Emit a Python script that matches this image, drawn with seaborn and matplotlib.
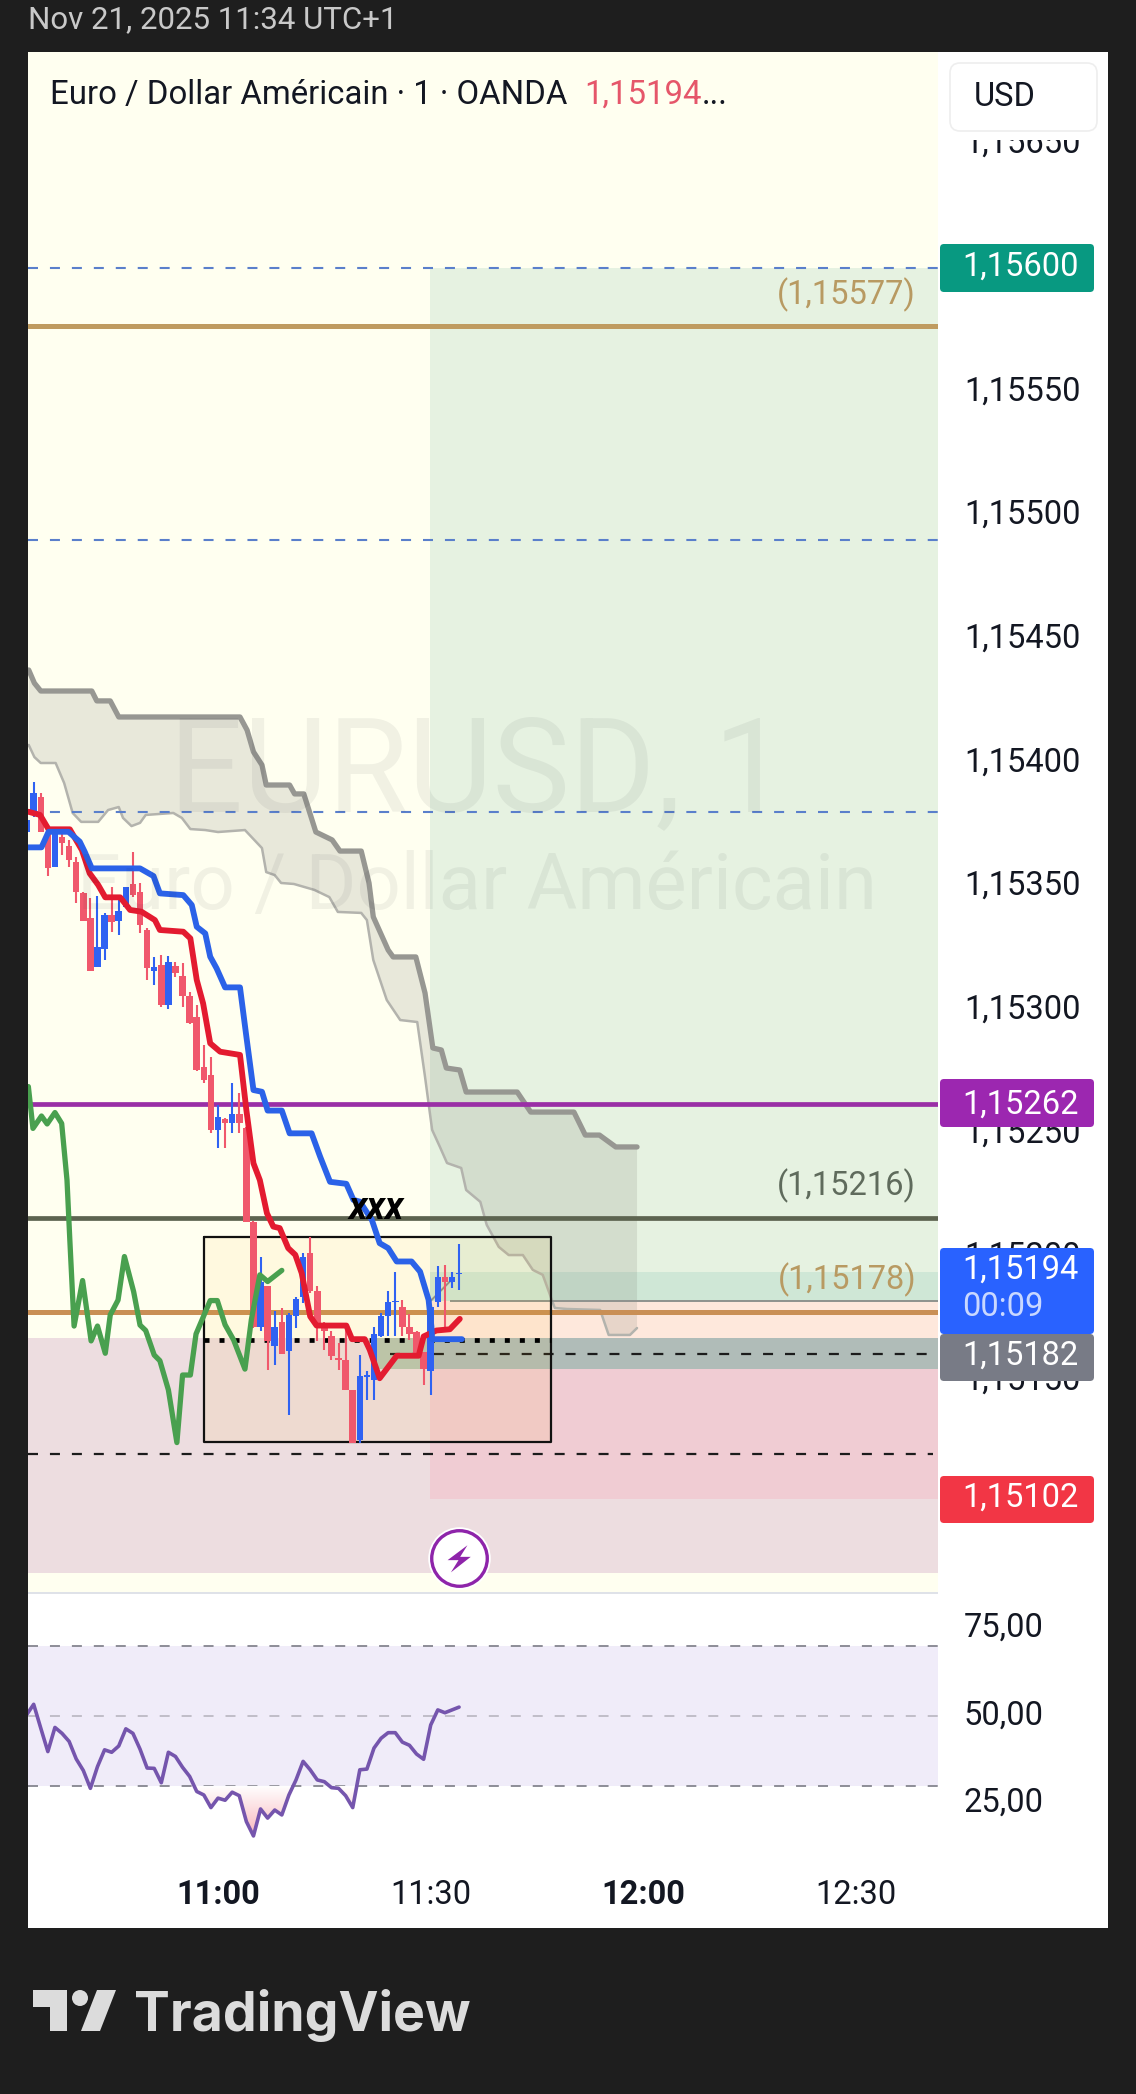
import numpy as np
import matplotlib
matplotlib.use('Agg')
import matplotlib.pyplot as plt
import matplotlib.transforms as mtransforms
import seaborn as sns
from matplotlib.colors import LinearSegmentedColormap
from matplotlib.patches import FancyBboxPatch, Polygon, Circle, Rectangle
from matplotlib.path import Path

# candles, minutes relative to 11:00
candle_t = list(range(-27, 35))
opens = [1.153705, 1.153779, 1.153844, 1.153696, 1.153564, 1.153685, 1.153647, 1.153584, 1.153456, 1.153355,
         1.153160, 1.153231, 1.153369, 1.153344, 1.153402, 1.153494, 1.153463, 1.153308, 1.153141, 1.153166,
         1.153005, 1.153162, 1.153122, 1.153041, 1.152955, 1.152753, 1.152722, 1.152500, 1.152543, 1.152526,
         1.152564, 1.152506, 1.152126, 1.151705, 1.151867, 1.151628, 1.151725, 1.151607, 1.151746, 1.151826,
         1.152004, 1.151847, 1.151712, 1.151667, 1.151577, 1.151568, 1.151447, 1.151247, 1.151503, 1.151487,
         1.151665, 1.151746, 1.151805, 1.151786, 1.151705, 1.151682, 1.151604, 1.151527, 1.151806, 1.151905,
         1.151887, 1.151918]
highs = [1.153752, 1.153907, 1.153863, 1.153719, 1.153719, 1.153719, 1.153672, 1.153604, 1.153463, 1.153436,
         1.153445, 1.153375, 1.153483, 1.153429, 1.153483, 1.153624, 1.153497, 1.153315, 1.153197, 1.153207,
         1.153203, 1.153180, 1.153173, 1.153059, 1.153005, 1.152843, 1.152796, 1.152601, 1.152547, 1.152688,
         1.152648, 1.152513, 1.152130, 1.151988, 1.151867, 1.151766, 1.151779, 1.151759, 1.151826, 1.152004,
         1.152069, 1.151867, 1.151725, 1.151685, 1.151638, 1.151705, 1.151447, 1.151588, 1.151527, 1.151705,
         1.151759, 1.151847, 1.151927, 1.151813, 1.151756, 1.151685, 1.151604, 1.151786, 1.151948, 1.151954,
         1.151927, 1.152038]
lows = [1.153705, 1.153766, 1.153705, 1.153526, 1.153561, 1.153611, 1.153564, 1.153416, 1.153344, 1.153144,
        1.153157, 1.153187, 1.153301, 1.153288, 1.153395, 1.153443, 1.153294, 1.153106, 1.153086, 1.152995,
        1.152987, 1.153119, 1.152995, 1.152928, 1.152739, 1.152688, 1.152486, 1.152425, 1.152425, 1.152486,
        1.152486, 1.152126, 1.151698, 1.151689, 1.151530, 1.151550, 1.151595, 1.151348, 1.151698, 1.151802,
        1.151840, 1.151645, 1.151611, 1.151568, 1.151530, 1.151447, 1.151234, 1.151236, 1.151409, 1.151409,
        1.151662, 1.151665, 1.151665, 1.151665, 1.151649, 1.151577, 1.151469, 1.151429, 1.151783, 1.151705,
        1.151860, 1.151851]
closes = [1.153752, 1.153863, 1.153705, 1.153557, 1.153709, 1.153661, 1.153591, 1.153460, 1.153344, 1.153144,
          1.153241, 1.153369, 1.153342, 1.153386, 1.153480, 1.153449, 1.153328, 1.153153, 1.153157, 1.153005,
          1.153177, 1.153133, 1.153041, 1.152931, 1.152742, 1.152702, 1.152500, 1.152551, 1.152526, 1.152564,
          1.152526, 1.152126, 1.151705, 1.151887, 1.151645, 1.151705, 1.151595, 1.151750, 1.151816, 1.151988,
          1.151847, 1.151705, 1.151685, 1.151587, 1.151568, 1.151447, 1.151234, 1.151507, 1.151510, 1.151676,
          1.151748, 1.151806, 1.151810, 1.151705, 1.151676, 1.151584, 1.151533, 1.151783, 1.151905, 1.151887,
          1.151907, 1.151923]

# moving averages
red_t = [-26.75, -25.1, -23.9, -20.9, -19.2, -18.1, -16.9, -15.9, -13.8, -12.4, -10.8, -8.9, -8.2, -4.9, -3.9, -3.0,
         -2.1, -1.1, 0.3, 3.1, 4.0, 5.0, 5.9, 6.9, 7.8, 8.7, 9.9, 10.9, 11.8, 13.0, 13.9, 18.1, 18.9, 20.7, 21.4,
         22.8, 25.2, 28.3, 29.0, 30.8, 32.7, 34.1]
red_v = [1.153786, 1.153773, 1.153715, 1.153715, 1.153631, 1.153537, 1.153490, 1.153440, 1.153440, 1.153389,
         1.153382, 1.153348, 1.153308, 1.153301, 1.153274, 1.153106, 1.153011, 1.152850, 1.152816, 1.152803,
         1.152580, 1.152365, 1.152297, 1.152163, 1.152109, 1.152103, 1.152022, 1.151995, 1.151921, 1.151746,
         1.151709, 1.151709, 1.151654, 1.151654, 1.151611, 1.151496, 1.151587, 1.151587, 1.151665, 1.151689,
         1.151694, 1.151736]
blue_t = [-26.75, -24.9, -23.9, -21.1, -19.5, -18.8, -17.8, -11.0, -9.1, -8.2, -4.9, -3.7, -3.0, -1.8, -1.1, -0.2, 1.0,
          3.1, 4.0, 5.0, 6.2, 7.0, 9.0, 10.1, 13.2, 14.4, 15.8, 18.1, 19.1, 20.0, 21.7, 22.8, 24.0, 25.2, 27.3, 28.5,
          29.7, 30.1, 30.2, 34.4]
blue_v = [1.153642, 1.153642, 1.153705, 1.153705, 1.153665, 1.153624, 1.153557, 1.153557, 1.153526, 1.153456,
          1.153449, 1.153409, 1.153321, 1.153294, 1.153200, 1.153153, 1.153076, 1.153076, 1.152877, 1.152661,
          1.152654, 1.152578, 1.152578, 1.152486, 1.152486, 1.152392, 1.152290, 1.152282, 1.152217, 1.152210,
          1.152136, 1.152042, 1.152022, 1.151968, 1.151968, 1.151927, 1.151813, 1.151705, 1.151654, 1.151654]
green_t = [-26.75, -26.1, -24.9, -24.1, -23.0, -22.05, -21.3, -20.9, -20.3, -19.1, -17.9, -17.0, -15.9, -15.2, -14.1,
           -13.2, -11.9, -11.0, -10.2, -9.0, -8.2, -7.0, -5.8, -5.0, -3.9, -3.1, -1.1, -0.1, 1.0, 2.2, 3.8, 4.7, 5.9,
           7.0, 9.0]
green_v = [1.152675, 1.152506, 1.152556, 1.152524, 1.152570, 1.152526, 1.152297, 1.152055, 1.151707, 1.151891,
           1.151647, 1.151707, 1.151597, 1.151752, 1.151812, 1.151988, 1.151846, 1.151711, 1.151689, 1.151590,
           1.151567, 1.151449, 1.151236, 1.151509, 1.151509, 1.151675, 1.151810, 1.151810, 1.151712, 1.151651,
           1.151533, 1.151732, 1.151914, 1.151887, 1.151932]

# cloud edges
span_a_t = [-26.7, -25.9, -25.0, -17.8, -17.1, -15.2, -14.0, 3.1, 4.1, 5.0, 6.2, 6.8, 10.1, 10.8, 12.1, 13.8, 16.1,
            17.2, 20.2, 21.3, 21.9, 24.0, 24.7, 27.9, 29.2, 30.3, 31.5, 32.2, 34.1, 35.0, 42.2, 44.1, 50.2, 51.8,
            53.8, 56.1, 59.1]
span_a_v = [1.154359, 1.154306, 1.154274, 1.154274, 1.154234, 1.154234, 1.154169, 1.154169, 1.154116, 1.154028,
            1.153975, 1.153894, 1.153894, 1.153858, 1.153858, 1.153704, 1.153672, 1.153627, 1.153627, 1.153498,
            1.153361, 1.153227, 1.153199, 1.153199, 1.153053, 1.152831, 1.152823, 1.152750, 1.152742, 1.152653,
            1.152653, 1.152572, 1.152572, 1.152479, 1.152479, 1.152431, 1.152431]
span_b_t = [-26.7, -25.9, -25.0, -22.9, -21.7, -20.5, -19.3, -16.9, -15.5, -14.0, -13.4, -12.2, -11.0, -10.2, -6.3,
            -5.1, -3.9, -1.8, 0.0, 3.8, 6.2, 6.8, 8.0, 8.9, 10.7, 13.6, 15.7, 16.9, 20.2, 21.0, 21.9, 23.8, 25.7, 28.1,
            29.2, 30.2, 31.3, 32.3, 34.3, 35.0, 37.0, 37.9, 39.6, 41.0, 43.0, 44.4, 45.8, 47.5, 49.2, 53.9, 55.1, 58.1,
            59.1]
span_b_v = [1.154056, 1.154007, 1.153983, 1.153983, 1.153902, 1.153781, 1.153745, 1.153745, 1.153793, 1.153805,
            1.153761, 1.153728, 1.153741, 1.153773, 1.153781, 1.153761, 1.153716, 1.153712, 1.153704, 1.153712,
            1.153639, 1.153542, 1.153530, 1.153498, 1.153494, 1.153470, 1.153441, 1.153381, 1.153377, 1.153348,
            1.153187, 1.153025, 1.152944, 1.152936, 1.152714, 1.152500, 1.152431, 1.152366, 1.152346, 1.152257,
            1.152209, 1.152116, 1.152027, 1.151994, 1.151994, 1.151934, 1.151914, 1.151780, 1.151776, 1.151772,
            1.151671, 1.151671, 1.151699]

# rsi, one value per candle
rsi_values = [50.3, 53.3, 46.5, 39.8, 46.7, 45.0, 42.7, 37.7, 34.4, 29.3, 35.5, 40.3, 39.6, 41.4, 46.3, 45.0, 40.5,
              35.1, 35.0, 30.9, 39.6, 38.4, 35.3, 32.7, 28.4, 27.4, 23.8, 26.5, 25.9, 28.2, 27.2, 19.8, 15.7, 23.4,
              20.8, 23.1, 21.7, 27.4, 31.7, 37.0, 34.6, 31.7, 31.2, 29.5, 29.3, 27.2, 23.8, 34.6, 34.8, 40.8, 43.6,
              45.2, 45.2, 42.5, 41.6, 39.1, 37.6, 47.4, 51.7, 50.9, 51.7, 52.5]

# levels
blue_levels = [1.155984, 1.154884, 1.153785]
tan_level = 1.155749
orange_level = 1.151765
dark_level = 1.152144
purple_level = 1.152605
grey_level = 1.151808
dash_level_a = 1.151593
dash_level_b = 1.151189
dotted_level = 1.151651
box_top, box_bottom = 1.152067, 1.151239
xxx_t, xxx_v = 22.3, 1.152184
bolt_t, bolt_v = 34.0, 1.150770

# zones: (label, low, high, start, colour)
zones = [('target', 1.151926, 1.155984, 29.9, '#e6f2e1'),
         ('target2', 1.151808, 1.151926, 29.9, '#cfe7d6'),
         ('peach', 1.151659, 1.151808, 29.9, '#fee8dc'),
         ('grey', 1.151534, 1.151659, 29.9, '#b0bcb8'),
         ('stop', 1.151008, 1.151534, 29.9, '#f0ccd3')]

price_ticks = [1.1510 + 0.0005 * i for i in range(12)]
price_labels = ['1,15100', '1,15150', '1,15200', '1,15250', '1,15300', '1,15350', '1,15400', '1,15450', '1,15500',
                '1,15550', '1,15600', '1,15650']
time_ticks = [0, 30, 60, 90]
time_labels = ['11:00', '11:30', '12:00', '12:30']
rsi_ticks = [75, 50, 25]
rsi_labels = ['75,00', '50,00', '25,00']

W, H = 1136, 2094
DARK = '#1e1e1e'
UP = '#2f62f2'
DOWN = '#f0586c'
XMIN, XMAX = -26.8, 101.55
TEXT = '#131722'
SIZE = 23.5

sns.set_theme(style='white')
plt.rcParams['font.family'] = ['Roboto', 'DejaVu Sans']

fig = plt.figure(figsize=(W / 100, H / 100), dpi=100, facecolor=DARK)


def pane(top, bottom, left=28, right=938, z=1):
    return fig.add_axes([left / W, 1 - bottom / H, (right - left) / W, (bottom - top) / H], zorder=z)


def dash(lw):
    # 10 px on, 12 px off whatever the line width
    return (0, (7.2 / lw, 8.6 / lw))


under = pane(0, H, 0, W, z=0)
under.set_xlim(0, W)
under.set_ylim(H, 0)
under.axis('off')
under.add_patch(Rectangle((28, 52), 1080, 1876, color='white', lw=0))

ax = pane(52, 1592, z=2)
ax.set_facecolor('#fffff0')
ax.set_xlim(XMIN, XMAX)
ax.set_ylim(1.150632, 1.156857)

# zones under everything
ax.fill_between([XMIN, XMAX], 1.150709, 1.151659, color='#eddde0', lw=0, zorder=0.5)
for name, low, high, start, colour in zones:
    ax.fill_between([start, XMAX], low, high, color=colour, lw=0, zorder=0.6)
ax.fill_between([22, 29.9], 1.151534, 1.151659, color='#b7c6b4', lw=0, zorder=0.7)

# watermark
fig.text(478 / W, 1 - 775 / H, 'EURUSD, 1', fontsize=94, color='#131722', alpha=0.06, ha='center', va='center', zorder=3)
fig.text(877 / W, 1 - 888 / H, 'Euro / Dollar Américain', fontsize=56, color='#131722', alpha=0.06, ha='right',
         va='center', zorder=3)

# cloud
cloud_x = span_a_t + span_b_t[::-1]
cloud_y = span_a_v + span_b_v[::-1]
ax.fill(cloud_x, cloud_y, color='#787b70', alpha=0.17, lw=0, zorder=1)
sns.lineplot(x=span_a_t, y=span_a_v, ax=ax, color='#979792', linewidth=3.8, estimator=None, sort=False, zorder=1.5)
sns.lineplot(x=span_b_t, y=span_b_v, ax=ax, color='#b3b3ad', linewidth=1.8, estimator=None, sort=False, zorder=1.5)

# levels
for level in blue_levels:
    ax.axhline(level, color='#5a7fcb', lw=1.5, ls=dash(1.5), zorder=2)
ax.axhline(tan_level, color='#bf9b60', lw=3.6, zorder=2)
ax.axhline(orange_level, color='#c98f55', lw=3.6, zorder=2)
ax.axhline(dark_level, color='#5d6450', lw=3.4, zorder=2)
ax.axhline(purple_level, color='#9a2fa6', lw=3.4, zorder=2)
ax.hlines(grey_level, 32.7, XMAX, color='#8e928e', lw=1.4, zorder=2)
ax.plot([29.9, 32.7], [1.151806, 1.151887], color='#8e928e', lw=1.4, zorder=2)
ax.hlines(dash_level_a, 24.3, 100.1, color='#1c1c1c', lw=1.6, ls=dash(1.6), zorder=2)
ax.hlines(dash_level_b, XMIN, 100.8, color='#1c1c1c', lw=1.6, ls=dash(1.6), zorder=2)

# box
ax.fill_between([-2, 47], box_bottom, box_top, color='#ffb300', alpha=0.07, lw=0, zorder=2.1)
ax.plot([-2, 47, 47, -2, -2], [box_top, box_top, box_bottom, box_bottom, box_top], color='#111111', lw=1.6, zorder=2.2)
ax.hlines(dotted_level, -2, 47, color='black', lw=3.4, ls=(0, (1.06, 2.12)), zorder=2.3)

# candles
colours = [UP if c >= o else DOWN for o, c in zip(opens, closes)]
ax.vlines(candle_t, lows, highs, colors=colours, lw=1.5, zorder=3.5)
ax.bar(candle_t, np.abs(np.array(closes) - np.array(opens)), bottom=np.minimum(opens, closes), width=0.92,
       color=colours, lw=0, zorder=3.6)

# moving averages
sns.lineplot(x=green_t, y=green_v, ax=ax, color='#49a04f', linewidth=3.8, estimator=None, sort=False, zorder=4)
sns.lineplot(x=red_t, y=red_v, ax=ax, color='#e31b30', linewidth=4.2, estimator=None, sort=False, zorder=4.1)
sns.lineplot(x=blue_t, y=blue_v, ax=ax, color='#2b62e8', linewidth=4.2, estimator=None, sort=False, zorder=4.2)

ax.text(xxx_t, xxx_v, 'xxx', fontsize=27, fontweight='bold', fontstyle='italic', color='black', ha='center',
        va='center', zorder=5)

# alert marker
bolt = [(24, 40), (-36, -5), (-3, -5), (-26, -42), (34, 5), (2, 5)]
ax.plot([bolt_t], [bolt_v], marker='o', ms=45, mfc='white', mec='none', zorder=5, clip_on=False)
ax.plot([bolt_t], [bolt_v], marker='o', ms=40, mfc='white', mec='#8e24aa', mew=2.4, zorder=5.1)
ax.plot([bolt_t], [bolt_v], marker=bolt, ms=20, mfc='#8e24aa', mec='none', zorder=5.2)

ax.set_yticks(price_ticks)
ax.set_yticklabels(price_labels)
ax.set_xticks([])
ax.yaxis.tick_right()
ax.tick_params(axis='y', length=0, pad=18.7, labelsize=SIZE, labelcolor=TEXT)
sns.despine(ax=ax, left=True, right=True, top=True, bottom=True)

# rsi pane
rsi_ax = pane(1593, 1865, z=2)
rsi_ax.set_facecolor('white')
rsi_ax.set_xlim(XMIN, XMAX)
rsi_ax.set_ylim(7.4, 85.1)
rsi_ax.axhspan(30, 70, color='#f0ecf9', lw=0, zorder=0.5)
rsi_ax.axhline(70, color='#85858f', lw=1.3, ls=dash(1.3), zorder=1)
rsi_ax.axhline(50, color='#bdbac4', lw=1.3, ls=dash(1.3), zorder=1)
rsi_ax.axhline(30, color='#85858f', lw=1.3, ls=dash(1.3), zorder=1)

rsi_arr = np.array(rsi_values)
under_band = rsi_ax.fill_between(candle_t, rsi_arr, 30, where=rsi_arr < 30, interpolate=True, color='none', lw=0)
pink = LinearSegmentedColormap.from_list('pink_fade', ['#ffffff', '#f8b4ba'])
grad = rsi_ax.imshow(np.linspace(0, 1, 64).reshape(-1, 1), extent=[XMIN, XMAX, 15, 30], origin='upper', cmap=pink,
                     aspect='auto', zorder=1.5)
grad.set_clip_path(Path.make_compound_path(*under_band.get_paths()), transform=rsi_ax.transData)
rsi_ax.set_xlim(XMIN, XMAX)
rsi_ax.set_ylim(7.4, 85.1)

sns.lineplot(x=candle_t, y=rsi_values, ax=rsi_ax, color='#7555ad', linewidth=2.6, estimator=None, sort=False, zorder=2)

rsi_ax.set_yticks(rsi_ticks)
rsi_ax.set_yticklabels(rsi_labels)
rsi_ax.yaxis.tick_right()
rsi_ax.tick_params(axis='y', length=0, pad=18.7, labelsize=SIZE, labelcolor=TEXT)
# the scale text sits a little above its value in the original
lift = mtransforms.ScaledTranslation(0, 4 / 100, fig.dpi_scale_trans)
for label in rsi_ax.get_yticklabels():
    label.set_transform(label.get_transform() + lift)
rsi_ax.set_xticks(time_ticks)
rsi_ax.set_xticklabels(time_labels)
rsi_ax.tick_params(axis='x', length=0, pad=10, labelsize=SIZE, labelcolor=TEXT)
for label, weight in zip(rsi_ax.get_xticklabels(), ['bold', 'normal', 'bold', 'normal']):
    label.set_fontweight(weight)
sns.despine(ax=rsi_ax, left=True, right=True, top=True, bottom=True)

# overlay in pixels: header, badges, logo
over = pane(0, H, 0, W, z=10)
over.set_xlim(0, W)
over.set_ylim(H, 0)
over.axis('off')
over.patch.set_alpha(0)

over.add_patch(Rectangle((28, 1592), 910, 1.5, color='#dfe2e8', lw=0))
over.text(28, 20, 'Nov 21, 2025 11:34 UTC+1', fontsize=22.5, color='#c9c9c9', va='center')
over.text(50, 95, 'Euro / Dollar Américain · 1 · OANDA', fontsize=23.7, color=TEXT, va='center')
over.text(584, 95, '1,15194', fontsize=23.7, color='#e5566a', va='center')
over.text(702, 95, '...', fontsize=23.7, color=TEXT, va='center')

# the scale label behind the currency button is cut off at its top
over.add_patch(Rectangle((939, 52), 169, 88, color='white', lw=0))
over.add_patch(FancyBboxPatch((950, 63), 147, 68, boxstyle='round,pad=0,rounding_size=10', fc='white', ec='#eeeeee',
                              lw=1.2))
over.text(974, 97, 'USD', fontsize=23.5, color=TEXT, va='center')

over.text(916, 295, '(1,15577)', fontsize=SIZE, color='#b89a62', ha='right', va='center')
over.text(916, 1186, '(1,15216)', fontsize=SIZE, color='#5f6b5c', ha='right', va='center')
over.text(916, 1280, '(1,15178)', fontsize=SIZE, color='#b89a62', ha='right', va='center')

badges = [(244, 292, '#089981', '1,15600', 267),
          (1079, 1127, '#9c27b0', '1,15262', 1105),
          (1248, 1334, '#2962ff', '1,15194', 1270),
          (1334, 1381, '#787b86', '1,15182', 1356),
          (1476, 1523, '#f23645', '1,15102', 1498)]
for top, bottom, colour, text, centre in badges:
    over.add_patch(FancyBboxPatch((940, top), 154, bottom - top, boxstyle='round,pad=0,rounding_size=4', fc=colour,
                                  ec='none'))
    over.text(962, centre, text, fontsize=SIZE, color='white', va='center')
over.text(962, 1307, '00:09', fontsize=SIZE, color='#c9d8ff', va='center')

# logo
logo_colour = '#dcdcdc'
over.add_patch(Polygon([(33, 1990), (67, 1990), (67, 2031), (50, 2031), (50, 2007), (33, 2007)], fc=logo_colour, ec='none'))
over.add_patch(Circle((80, 1998), 8, fc=logo_colour, ec='none'))
over.add_patch(Polygon([(97, 1990), (116, 1990), (100, 2031), (81, 2031)], fc=logo_colour, ec='none'))
over.text(134, 2031, 'TradingView', fontsize=38.6, fontweight='bold', family=['Inter', 'Roboto'], color=logo_colour,
          va='baseline')

fig.savefig('out.png', dpi=100, facecolor=DARK)
